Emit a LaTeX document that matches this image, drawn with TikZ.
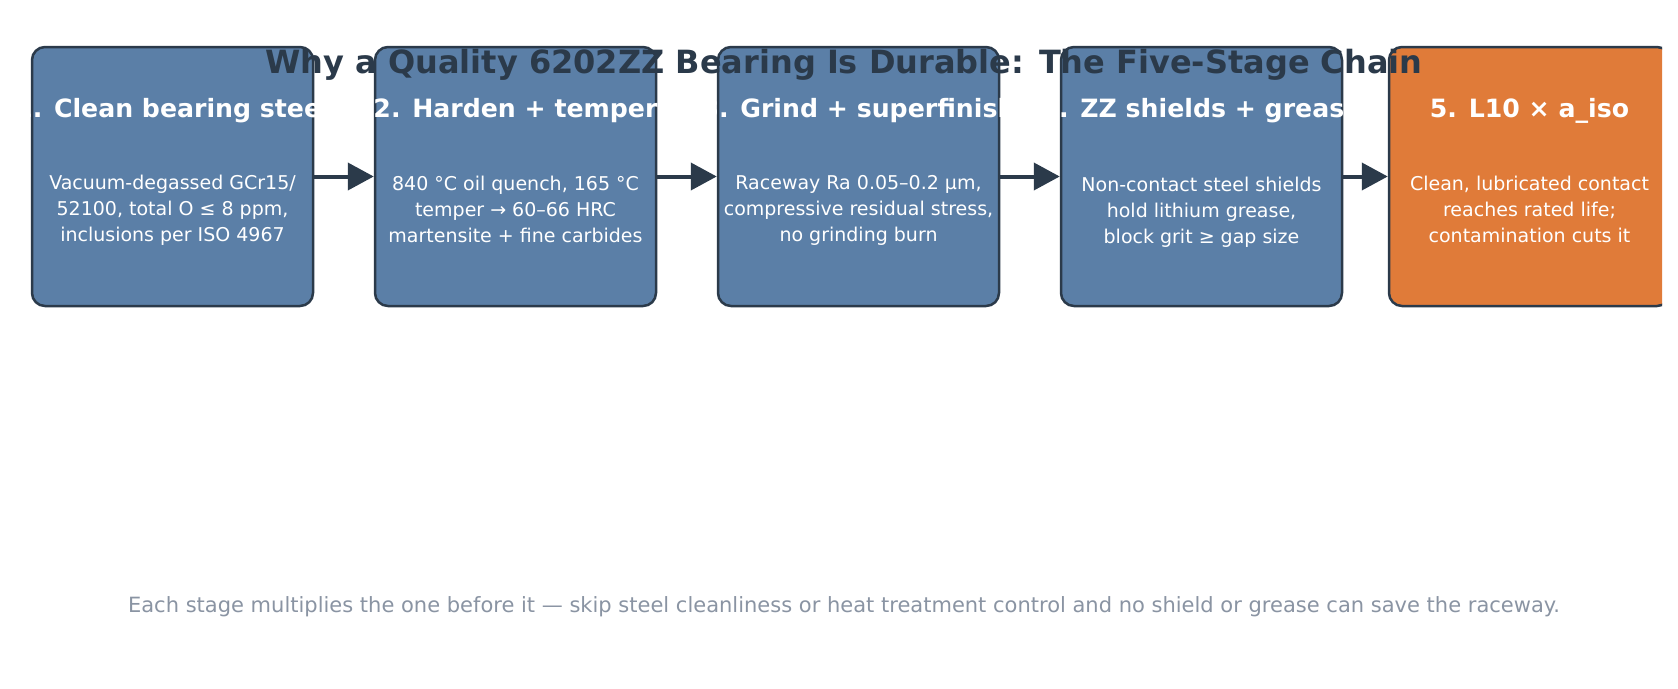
\documentclass[tikz,border=0pt]{standalone}
\usepackage{fontspec}
\setmainfont{DejaVu Sans}
\usetikzlibrary{arrows.meta}
\definecolor{boxblue}{HTML}{5B7FA7}
\definecolor{boxorange}{HTML}{E07B39}
\definecolor{ink}{HTML}{2B3A4A}
\definecolor{footgray}{HTML}{8A94A3}
\begin{document}
\begin{tikzpicture}[x=1pt,y=-1pt,
  stage/.style={draw=ink, line width=2.5pt, rounded corners=13pt,
    minimum width=281pt, minimum height=259pt, inner sep=0pt, outer sep=1.25pt},
  head/.style={anchor=base, text=white, font=\bfseries\fontsize{25.2}{29}\selectfont, inner sep=0pt},
  body/.style={anchor=base, text=white, align=center, font=\fontsize{19}{26}\selectfont, inner sep=0pt},
  conn/.style={draw=ink, line width=4pt, -{Triangle[length=26pt,width=27pt]}}]
\useasboundingbox (0,0) rectangle (1678,688);
\fill[white] (0,0) rectangle (1678,688);
% boxes
\node[stage, fill=boxblue] (s1) at (172.5,176.5) {};
\node[stage, fill=boxblue] (s2) at (515.5,176.5) {};
\node[stage, fill=boxblue] (s3) at (858.5,176.5) {};
\node[stage, fill=boxblue] (s4) at (1201.5,176.5) {};
\begin{scope}
\clip (0,0) rectangle (1662,688);
\node[stage, fill=boxorange] (s5) at (1529.5,176.5) {};
\end{scope}
% connectors
\draw[conn] (s1.east) -- (s2.west);
\draw[conn] (s2.east) -- (s3.west);
\draw[conn] (s3.east) -- (s4.west);
\draw[conn] (s4.east) -- (s5.west);
% title
\node[anchor=base, text=ink, font=\bfseries\fontsize{32}{38}\selectfont, inner sep=0pt] (title) at (844,73)
  {Why a Quality 6202ZZ Bearing Is Durable: The Five-Stage Chain};
% headings
\node[head] (h1) at (172.5,117) {1. Clean bearing steel};
\node[head] (h2) at (515.5,117) {2. Harden + temper};
\node[head] (h3) at (858.5,117) {3. Grind + superfinish};
\node[head] (h4) at (1201.5,117) {4. ZZ shields + grease};
\node[head] (h5) at (1529.5,117) {5. L10 × a\_iso};
% bodies (anchor base = last line)
\node[body] (b1) at (172.5,241) {Vacuum-degassed GCr15/\\52100, total O ≤ 8 ppm,\\inclusions per ISO 4967};
\node[body] (b2) at (515.5,242) {840 °C oil quench, 165 °C\\temper → 60–66 HRC\\martensite + fine carbides};
\node[body] (b3) at (858.5,241) {Raceway Ra 0.05–0.2 µm,\\compressive residual stress,\\no grinding burn};
\node[body] (b4) at (1201.5,243) {Non-contact steel shields\\hold lithium grease,\\block grit ≥ gap size};
\node[body] (b5) at (1529.5,242) {Clean, lubricated contact\\reaches rated life;\\contamination cuts it};
% footer
\node[anchor=base, text=footgray, font=\fontsize{21}{25}\selectfont, inner sep=0pt] (foot) at (844,612)
  {Each stage multiplies the one before it — skip steel cleanliness or heat treatment control and no shield or grease can save the raceway.};
\end{tikzpicture}
\end{document}
